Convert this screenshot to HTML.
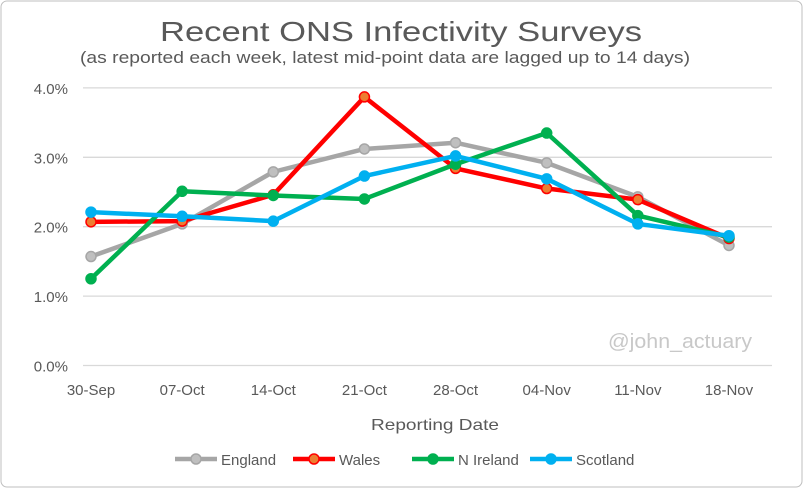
<!DOCTYPE html>
<html><head><meta charset="utf-8"><style>
body{margin:0;background:#fff}
svg{display:block;font-family:"Liberation Sans","DejaVu Sans",sans-serif}
</style></head><body>
<svg id="chart" width="803" height="488">
<rect x="1" y="1" width="801" height="486" rx="6" fill="#fff" stroke="#bfbfbf"/>
<text x="401" y="41" text-anchor="middle" font-size="28" fill="#595959" textLength="482" lengthAdjust="spacingAndGlyphs">Recent ONS Infectivity Surveys</text>
<text x="385" y="63" text-anchor="middle" font-size="17" fill="#595959" textLength="610" lengthAdjust="spacingAndGlyphs">(as reported each week, latest mid-point data are lagged up to 14 days)</text>
<g id="grid"></g><g id="series"></g>
<text x="680" y="348" text-anchor="middle" font-size="20" fill="#c8c8c8" textLength="144" lengthAdjust="spacingAndGlyphs">@john_actuary</text>
<text x="435" y="430" text-anchor="middle" font-size="16" fill="#595959" textLength="128" lengthAdjust="spacingAndGlyphs">Reporting Date</text>
<g id="legend"></g>
</svg>
<script>
const categories=["30-Sep","07-Oct","14-Oct","21-Oct","28-Oct","04-Nov","11-Nov","18-Nov"];
const yTicks=[0,1,2,3,4];
const seriesNames=["England","Wales","N Ireland","Scotland"];
const england=[1.57,2.04,2.79,3.12,3.21,2.92,2.43,1.73];
const wales=[2.07,2.08,2.46,3.87,2.84,2.55,2.39,1.83];
const nireland=[1.25,2.51,2.45,2.40,2.90,3.35,2.16,1.85];
const scotland=[2.21,2.15,2.08,2.73,3.02,2.69,2.04,1.87];
const NS="http://www.w3.org/2000/svg";
const x=i=>91+i*91.14;
const y=v=>365.5-v*69.4;
function mk(t,a,p){const e=document.createElementNS(NS,t);for(const k in a)e.setAttribute(k,a[k]);p.appendChild(e);return e;}
const grid=document.getElementById('grid');
yTicks.forEach(v=>{
 const l=mk('line',{x1:83,x2:772,y1:y(v),y2:y(v),stroke:'#d9d9d9','stroke-width':1.3},grid);
 
 
 const t=mk('text',{x:68,y:y(v)+6,'text-anchor':'end','font-size':15,fill:'#595959'},grid);
 t.textContent=v.toFixed(1)+'%';
 
 
});
categories.forEach((c,i)=>{
 const t=mk('text',{x:x(i),y:395,'text-anchor':'middle','font-size':15,fill:'#595959'},grid);
 t.textContent=c;
 
 
});
const data=[england,wales,nireland,scotland];
const colors=["#a6a6a6","#ff0000","#00b050","#00b0f0"];
const fills=["#bfbfbf","#ed7d31","#00b050","#00b0f0"];
const sg=document.getElementById('series');
data.forEach((d,s)=>{
 const g=mk('g',{},sg);
 
 
 const p=mk('polyline',{points:d.map((v,i)=>x(i)+','+y(v)).join(' '),fill:'none',stroke:colors[s],'stroke-width':4.5,'stroke-linejoin':'round'},g);
 
 
 d.forEach((v,i)=>{
  const c=mk('circle',{cx:x(i),cy:y(v),r:5,fill:fills[s],stroke:colors[s],'stroke-width':1.5},g);
  
  
 });
});
const lg=document.getElementById('legend');
const lx=[175,293,412,530];
seriesNames.forEach((n,s)=>{
 const g=mk('g',{},lg);
 
 
 mk('line',{x1:lx[s],x2:lx[s]+42,y1:459,y2:459,stroke:colors[s],'stroke-width':4.5},g);
 mk('circle',{cx:lx[s]+21,cy:459,r:5,fill:fills[s],stroke:colors[s],'stroke-width':1.5},g);
 const t=mk('text',{x:lx[s]+46,y:465,'font-size':15,fill:'#595959'},g);
 t.textContent=n;
});
</script>
</body></html>
